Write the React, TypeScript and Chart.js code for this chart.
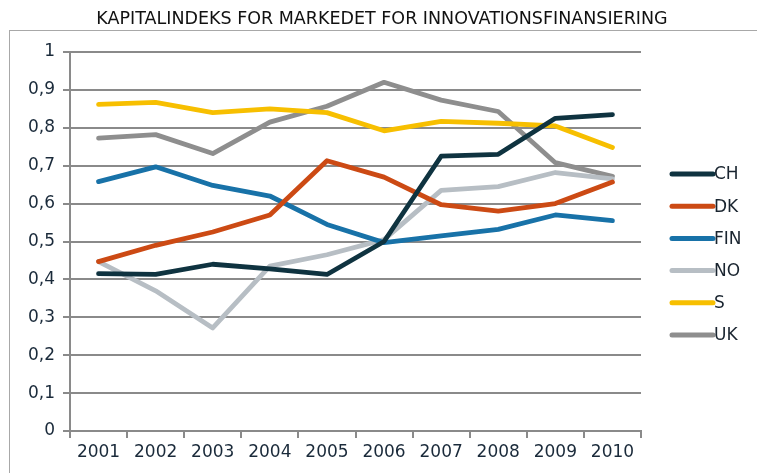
import React, { useEffect, useRef } from "react";
import { Chart, registerables } from "chart.js";

Chart.register(...registerables);

const TITLE = "KAPITALINDEKS FOR MARKEDET FOR INNOVATIONSFINANSIERING";
const years = ["2001", "2002", "2003", "2004", "2005", "2006", "2007", "2008", "2009", "2010"];
const yTickLabels = ["0", "0,1", "0,2", "0,3", "0,4", "0,5", "0,6", "0,7", "0,8", "0,9", "1"];

const seriesNames = ["CH", "DK", "FIN", "NO", "S", "UK"];
const seriesColors = ["#0f3340", "#cc4a14", "#1872a8", "#b7bec4", "#f7bf00", "#8e8e8e"];

const CH = [0.415, 0.413, 0.44, 0.428, 0.413, 0.5, 0.725, 0.73, 0.825, 0.835];
const DK = [0.447, 0.49, 0.525, 0.57, 0.713, 0.67, 0.597, 0.58, 0.6, 0.657];
const FIN = [0.658, 0.697, 0.648, 0.62, 0.545, 0.497, 0.515, 0.532, 0.57, 0.555];
const NO = [0.447, 0.37, 0.272, 0.435, 0.465, 0.505, 0.635, 0.645, 0.682, 0.665];
const S = [0.862, 0.867, 0.84, 0.85, 0.84, 0.792, 0.817, 0.812, 0.805, 0.748];
const UK = [0.773, 0.782, 0.732, 0.815, 0.857, 0.92, 0.873, 0.843, 0.708, 0.672];

const seriesValues = [CH, DK, FIN, NO, S, UK];

const FONT = "'DejaVu Sans', Verdana, sans-serif";

const legendPlugin = {
  id: "customLegend",
  afterDraw(chart: any) {
    const ctx = chart.ctx;
    ctx.save();
    // title
    ctx.fillStyle = "#111";
    ctx.font = `17.5px ${FONT}`;
    ctx.textAlign = "center";
    ctx.textBaseline = "middle";
    ctx.fillText(TITLE, 382, 19);
    // legend
    const x0 = 672;
    const x1 = 713;
    const top = 174;
    const step = 32.2;
    chart.data.datasets.forEach((ds: any, i: number) => {
      const y = top + i * step;
      ctx.strokeStyle = ds.borderColor;
      ctx.lineWidth = 5;
      ctx.lineCap = "round";
      ctx.beginPath();
      ctx.moveTo(x0, y);
      ctx.lineTo(x1, y);
      ctx.stroke();
      ctx.fillStyle = "#1a2530";
      ctx.font = `17px ${FONT}`;
      ctx.textBaseline = "middle";
      ctx.textAlign = "left";
      ctx.fillText(ds.label, x1 + 1, y + 1);
    });
    ctx.restore();
  },
};

export default function App() {
  const ref = useRef<HTMLCanvasElement>(null);
  useEffect(() => {
    if (!ref.current) return;
    const chart = new Chart(ref.current, {
      type: "line",
      data: {
        labels: years,
        datasets: seriesNames.map((name, i) => ({
          label: name,
          data: seriesValues[i],
          borderColor: seriesColors[i],
          backgroundColor: seriesColors[i],
          borderWidth: 4.8,
          pointRadius: 0,
          tension: 0,
          borderJoinStyle: "round" as const,
          borderCapStyle: "round" as const,
        })),
      },
      options: {
        animation: false,
        responsive: false,
        maintainAspectRatio: false,
        layout: { padding: { left: 0, right: 116, top: 52, bottom: 0 } },
        plugins: {
          legend: { display: false },
          tooltip: { enabled: false },
          title: { display: false },
        },
        scales: {
          x: {
            offset: true,
            grid: {
              offset: true,
              drawOnChartArea: false,
              drawTicks: true,
              tickLength: 7,
              color: "#8a8a8a",
              lineWidth: 2,
            },
            border: { display: true, color: "#8a8a8a", width: 2 },
            ticks: {
              color: "#1a2a3a",
              font: { family: FONT, size: 17 },
              padding: 4,
              maxRotation: 0,
              autoSkip: false,
            },
            afterFit: (s: any) => {
              s.height = 42;
            },
          },
          y: {
            min: 0,
            max: 1,
            grid: {
              color: "#8a8a8a",
              lineWidth: 2,
              tickLength: 7,
              drawTicks: true,
            },
            border: { display: true, color: "#8a8a8a", width: 2 },
            ticks: {
              stepSize: 0.1,
              color: "#1a2a3a",
              font: { family: FONT, size: 17 },
              padding: 8,
              callback: (_v: any, i: number) => yTickLabels[i],
            },
            afterFit: (s: any) => {
              s.width = 70;
            },
          },
        },
      },
      plugins: [legendPlugin],
    });
    return () => chart.destroy();
  }, []);

  return (
    <div
      style={{
        position: "fixed",
        left: 0,
        top: 0,
        width: 757,
        height: 473,
        overflow: "hidden",
        background: "#fff",
      }}
    >
      <div
        style={{
          position: "absolute",
          left: 9,
          top: 30,
          width: 800,
          height: 500,
          border: "1.5px solid #a8a8a8",
        }}
      />
      <canvas
        ref={ref}
        width={757}
        height={473}
        style={{ position: "absolute", left: 0, top: 0, width: 757, height: 473 }}
      />
    </div>
  );
}
